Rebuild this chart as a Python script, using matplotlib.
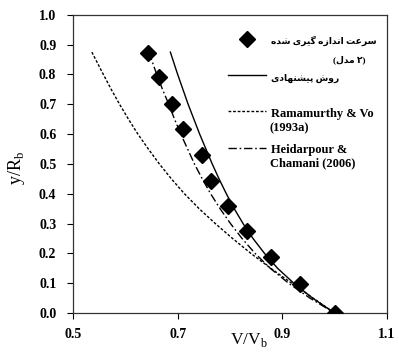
import matplotlib
matplotlib.use("Agg")
import matplotlib.pyplot as plt

# ---------------- data ----------------
meas_v = [0.644, 0.664, 0.690, 0.710, 0.747, 0.764, 0.797, 0.832, 0.878, 0.933, 1.000]
meas_y = [0.873, 0.790, 0.701, 0.617, 0.530, 0.443, 0.358, 0.276, 0.187, 0.099, 0.000]

curve_y = [0.875, 0.80, 0.75, 0.70, 0.65, 0.60, 0.55, 0.50, 0.45, 0.40,
           0.35, 0.30, 0.25, 0.20, 0.15, 0.10, 0.05, 0.00]
proposed_v = [0.686, 0.700, 0.710, 0.720, 0.731, 0.742, 0.754, 0.766, 0.779, 0.793,
              0.808, 0.825, 0.844, 0.866, 0.891, 0.922, 0.958, 1.000]
ramamurthy_v = [0.536, 0.558, 0.573, 0.589, 0.606, 0.624, 0.644, 0.665, 0.688, 0.713,
                0.741, 0.772, 0.805, 0.840, 0.878, 0.918, 0.959, 1.000]
heidarpour_v = [0.645, 0.660, 0.671, 0.683, 0.694, 0.706, 0.719, 0.732, 0.747, 0.763,
                0.781, 0.801, 0.823, 0.848, 0.877, 0.912, 0.953, 1.000]

x_ticks = [0.5, 0.7, 0.9, 1.1]
y_ticks = [0.0, 0.1, 0.2, 0.3, 0.4, 0.5, 0.6, 0.7, 0.8, 0.9, 1.0]

# ---------------- minimal Persian shaping ----------------
DUAL = {
    'س': (0xFEB1, 0xFEB2, 0xFEB3, 0xFEB4),
    'ش': (0xFEB5, 0xFEB6, 0xFEB7, 0xFEB8),
    'ع': (0xFEC9, 0xFECA, 0xFECB, 0xFECC),
    'ت': (0xFE95, 0xFE96, 0xFE97, 0xFE98),
    'ن': (0xFEE5, 0xFEE6, 0xFEE7, 0xFEE8),
    'ه': (0xFEE9, 0xFEEA, 0xFEEB, 0xFEEC),
    'م': (0xFEE1, 0xFEE2, 0xFEE3, 0xFEE4),
    'ل': (0xFEDD, 0xFEDE, 0xFEDF, 0xFEE0),
    'گ': (0xFB92, 0xFB93, 0xFB94, 0xFB95),
    'ی': (0xFBFC, 0xFBFD, 0xFBFE, 0xFBFF),
    'پ': (0xFB56, 0xFB57, 0xFB58, 0xFB59),
}
RIGHT = {
    'ا': (0xFE8D, 0xFE8E),
    'د': (0xFEA9, 0xFEAA),
    'ر': (0xFEAD, 0xFEAE),
    'ز': (0xFEAF, 0xFEB0),
    'و': (0xFEED, 0xFEEE),
}


def shape_fa(text):
    out = []
    n = len(text)
    for i, c in enumerate(text):
        if c in DUAL or c in RIGHT:
            pj = i > 0 and text[i - 1] in DUAL
            nj = c in DUAL and i + 1 < n and (text[i + 1] in DUAL or text[i + 1] in RIGHT)
            if c in DUAL:
                iso, fin, ini, med = DUAL[c]
                if pj and nj:
                    g = med
                elif pj:
                    g = fin
                elif nj:
                    g = ini
                else:
                    g = iso
            else:
                iso, fin = RIGHT[c]
                g = fin if pj else iso
            out.append(chr(g))
        else:
            out.append(c)
    return ''.join(reversed(out))


label_meas_1 = shape_fa('سرعت اندازه گیری شده')
label_meas_2 = '(' + shape_fa('مدل') + ' ۲)'
label_prop = shape_fa('روش پیشنهادی')
label_ram_1 = 'Ramamurthy & Vo'
label_ram_2 = '(1993a)'
label_hei_1 = 'Heidarpour &'
label_hei_2 = 'Chamani (2006)'

# ---------------- figure ----------------
fam = ['Liberation Serif', 'DejaVu Sans']
plt.rcParams['font.family'] = fam
fig = plt.figure(figsize=(3.99, 3.53), dpi=100)
ax = fig.add_axes([0.183, 0.113, 0.787, 0.845])

l_meas, = ax.plot(meas_v, meas_y, linestyle='none', marker='D', markersize=7.8,
                  color='black', zorder=5)
l_prop, = ax.plot(proposed_v, curve_y, color='black', lw=1.0)
l_ram, = ax.plot(ramamurthy_v, curve_y, color='black', lw=1.0,
                 linestyle=(0, (2, 1.3)))
l_hei, = ax.plot(heidarpour_v, curve_y, color='black', lw=1.0,
                 linestyle=(0, (6, 2, 1.2, 2)))

ax.set_xlim(0.5, 1.1)
ax.set_ylim(0.0, 1.0)
ax.set_xticks(x_ticks)
ax.set_yticks(y_ticks)
ax.set_xticklabels([f'{v:.1f}' for v in x_ticks], fontweight='bold', fontsize=10)
ax.set_yticklabels([f'{v:.1f}' for v in y_ticks], fontweight='bold', fontsize=10)
ax.tick_params(axis='both', direction='out', length=4, width=0.8, color='black')
ax.tick_params(axis='x', pad=7)
ax.tick_params(axis='y', pad=8)
for s in ax.spines.values():
    s.set_linewidth(0.9)
    s.set_color('#333333')

ax.set_xlabel('V/V$_\\mathregular{b}$', fontsize=12.5)
ax.xaxis.set_label_coords(0.56, -0.06)
ax.set_ylabel('y/R$_\\mathregular{b}$', fontsize=13)
ax.yaxis.set_label_coords(-0.147, 0.487)

leg = ax.legend([l_meas, l_prop, l_ram, l_hei],
                [label_meas_1, label_prop, label_ram_1, label_hei_1],
                loc='upper left', bbox_to_anchor=(0.494, 0.938),
                frameon=False, borderpad=0, borderaxespad=0,
                handlelength=3.0, handleheight=1.3,
                handletextpad=0.45, labelspacing=1.8,
                prop={'weight': 'bold', 'size': 9})
leg.get_texts()[0].set_fontsize(6.6)
leg.get_texts()[1].set_fontsize(6.6)

txt_kw = dict(transform=ax.transAxes, fontweight='bold', va='center')
ax.text(0.930, 0.849, label_meas_2, ha='right', fontsize=6.6, **txt_kw)
ax.text(0.627, 0.621, label_ram_2, ha='left', fontsize=9, **txt_kw)
ax.text(0.627, 0.503, label_hei_2, ha='left', fontsize=9, **txt_kw)

fig.savefig('out.png', dpi=100)
